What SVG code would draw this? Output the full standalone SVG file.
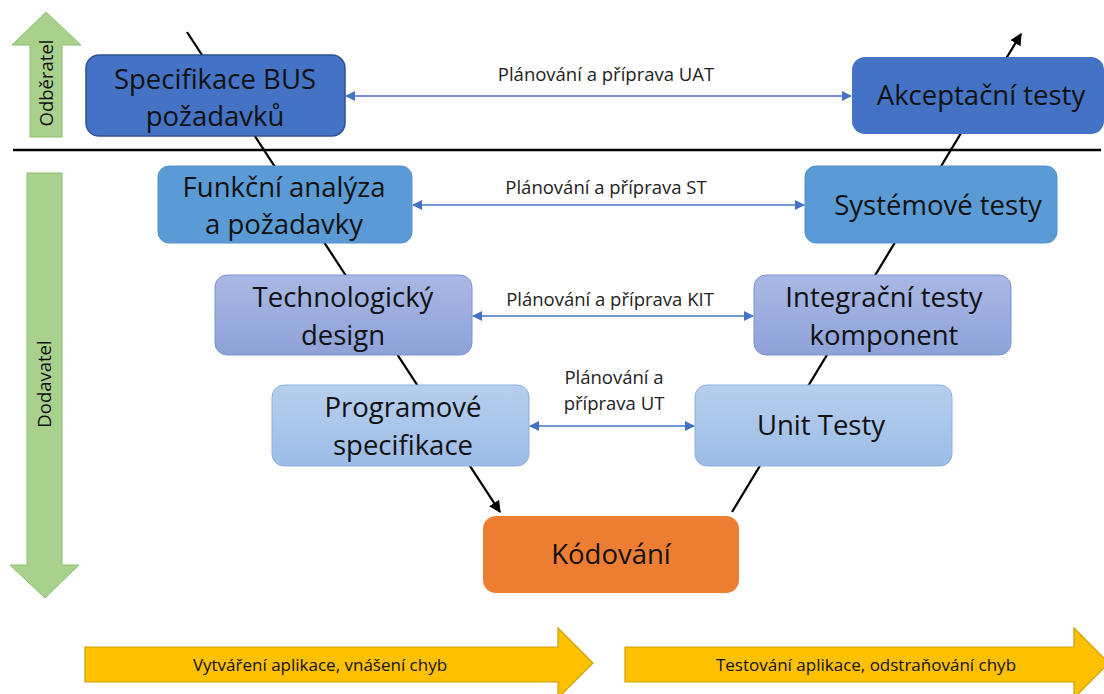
<svg xmlns="http://www.w3.org/2000/svg" width="1104" height="694" viewBox="0 0 1104 694">
<defs>
<linearGradient id="gLav" x1="0" y1="0" x2="0" y2="1"><stop offset="0" stop-color="#A9B8E4"/><stop offset="1" stop-color="#8EA2D9"/></linearGradient>
<linearGradient id="gLight" x1="0" y1="0" x2="0" y2="1"><stop offset="0" stop-color="#B7CFEE"/><stop offset="1" stop-color="#9CBCE6"/></linearGradient>
<marker id="ab" viewBox="0 0 10 10" refX="9" refY="5" markerWidth="10" markerHeight="10" markerUnits="userSpaceOnUse" orient="auto-start-reverse"><path d="M0,0 L10,5 L0,10 z" fill="#4472C4"/></marker>
<marker id="ak" viewBox="0 0 10 10" refX="9" refY="5" markerWidth="12" markerHeight="12" markerUnits="userSpaceOnUse" orient="auto"><path d="M0,0 L10,5 L0,10 z" fill="#000"/></marker>
</defs>
<style>
.t{font-family:"Open Sans","Noto Sans","Liberation Sans",sans-serif;fill:#111;text-anchor:middle}
.big{font-size:27.5px}
.sm{font-size:18.5px}
.lab{font-size:18.5px;fill:#222}
.ph{font-size:17px}
.blue{stroke:#4472C4;stroke-width:1.5;fill:none;marker-start:url(#ab);marker-end:url(#ab)}
.blk{stroke:#000;stroke-width:2.2;fill:none}
</style>
<rect width="1104" height="694" fill="#fff"/>
<g id="sides">
<path d="M30,137 L30,45 L12,45 L46,12 L81,45 L62,45 L62,137 Z" fill="#A9D18E" stroke="#8CBF6B" stroke-width="1"/>
<text class="t sm" transform="translate(53,83) rotate(-90)">Odběratel</text>
<path d="M27,173 L62,173 L62,565 L79,565 L45,598 L10,565 L27,565 Z" fill="#A9D18E" stroke="#8CBF6B" stroke-width="1"/>
<text class="t sm" transform="translate(51,384) rotate(-90)">Dodavatel</text>
</g>
<g id="divider"><line x1="13" y1="150" x2="1101" y2="150" stroke="#000" stroke-width="2.5"/></g>
<g id="connectors">
<line class="blk" x1="187" y1="32" x2="500" y2="512" marker-end="url(#ak)"/>
<line class="blk" x1="732" y1="512" x2="1021" y2="34" marker-end="url(#ak)"/>
<line class="blue" x1="346" y1="96" x2="851" y2="96"/>
<line class="blue" x1="413" y1="205" x2="804" y2="205"/>
<line class="blue" x1="473" y1="316" x2="753" y2="316"/>
<line class="blue" x1="530" y1="426" x2="694" y2="426"/>
<text class="t lab" x="606" y="81">Plánování a příprava UAT</text>
<text class="t lab" x="606" y="194">Plánování a příprava ST</text>
<text class="t lab" x="610" y="306">Plánování a příprava KIT</text>
<text class="t lab" x="614" y="384">Plánování a</text>
<text class="t lab" x="614" y="410">příprava UT</text>
</g>
<g id="n-bus"><rect x="86" y="55" width="259" height="81" rx="13" fill="#4472C4" stroke="#2F528F" stroke-width="1.5"/>
<text class="t big" x="215" y="89">Specifikace BUS</text><text class="t big" x="215" y="126">požadavků</text></g>
<g id="n-uat"><rect x="852" y="57" width="252" height="77" rx="13" fill="#4472C4"/>
<text class="t big" x="981" y="105">Akceptační testy</text></g>
<g id="n-fa"><rect x="158" y="166" width="254" height="77" rx="11" fill="#5B9BD5" stroke="#5390CC" stroke-width="1"/>
<text class="t big" x="284" y="197">Funkční analýza</text><text class="t big" x="284" y="234">a požadavky</text></g>
<g id="n-st"><rect x="805" y="166" width="252" height="77" rx="11" fill="#5B9BD5" stroke="#5390CC" stroke-width="1"/>
<text class="t big" x="938" y="215">Systémové testy</text></g>
<g id="n-td"><rect x="215" y="275" width="257" height="80" rx="12" fill="url(#gLav)" stroke="#7D92CF" stroke-width="1"/>
<text class="t big" x="343" y="307">Technologický</text><text class="t big" x="343" y="345">design</text></g>
<g id="n-kit"><rect x="754" y="275" width="257" height="80" rx="12" fill="url(#gLav)" stroke="#7D92CF" stroke-width="1"/>
<text class="t big" x="884" y="307">Integrační testy</text><text class="t big" x="884" y="345">komponent</text></g>
<g id="n-ps"><rect x="272" y="385" width="257" height="81" rx="12" fill="url(#gLight)" stroke="#8DAFDE" stroke-width="1"/>
<text class="t big" x="403" y="417">Programové</text><text class="t big" x="403" y="455">specifikace</text></g>
<g id="n-ut"><rect x="695" y="385" width="257" height="81" rx="12" fill="url(#gLight)" stroke="#8DAFDE" stroke-width="1"/>
<text class="t big" x="821" y="435">Unit Testy</text></g>
<g id="n-kod"><rect x="483" y="516" width="256" height="77" rx="13" fill="#ED7D31"/>
<text class="t big" x="611" y="564">Kódování</text></g>
<g id="phases">
<path d="M85,647 L558,647 L558,628 L593,663 L558,698 L558,682 L85,682 Z" fill="#FFC000" stroke="#C9A100" stroke-width="1.2"/>
<text class="t ph" x="320" y="671">Vytváření aplikace, vnášení chyb</text>
<path d="M625,647 L1074,647 L1074,628 L1109,663 L1074,698 L1074,682 L625,682 Z" fill="#FFC000" stroke="#C9A100" stroke-width="1.2"/>
<text class="t ph" x="866" y="671">Testování aplikace, odstraňování chyb</text>
</g>
</svg>
